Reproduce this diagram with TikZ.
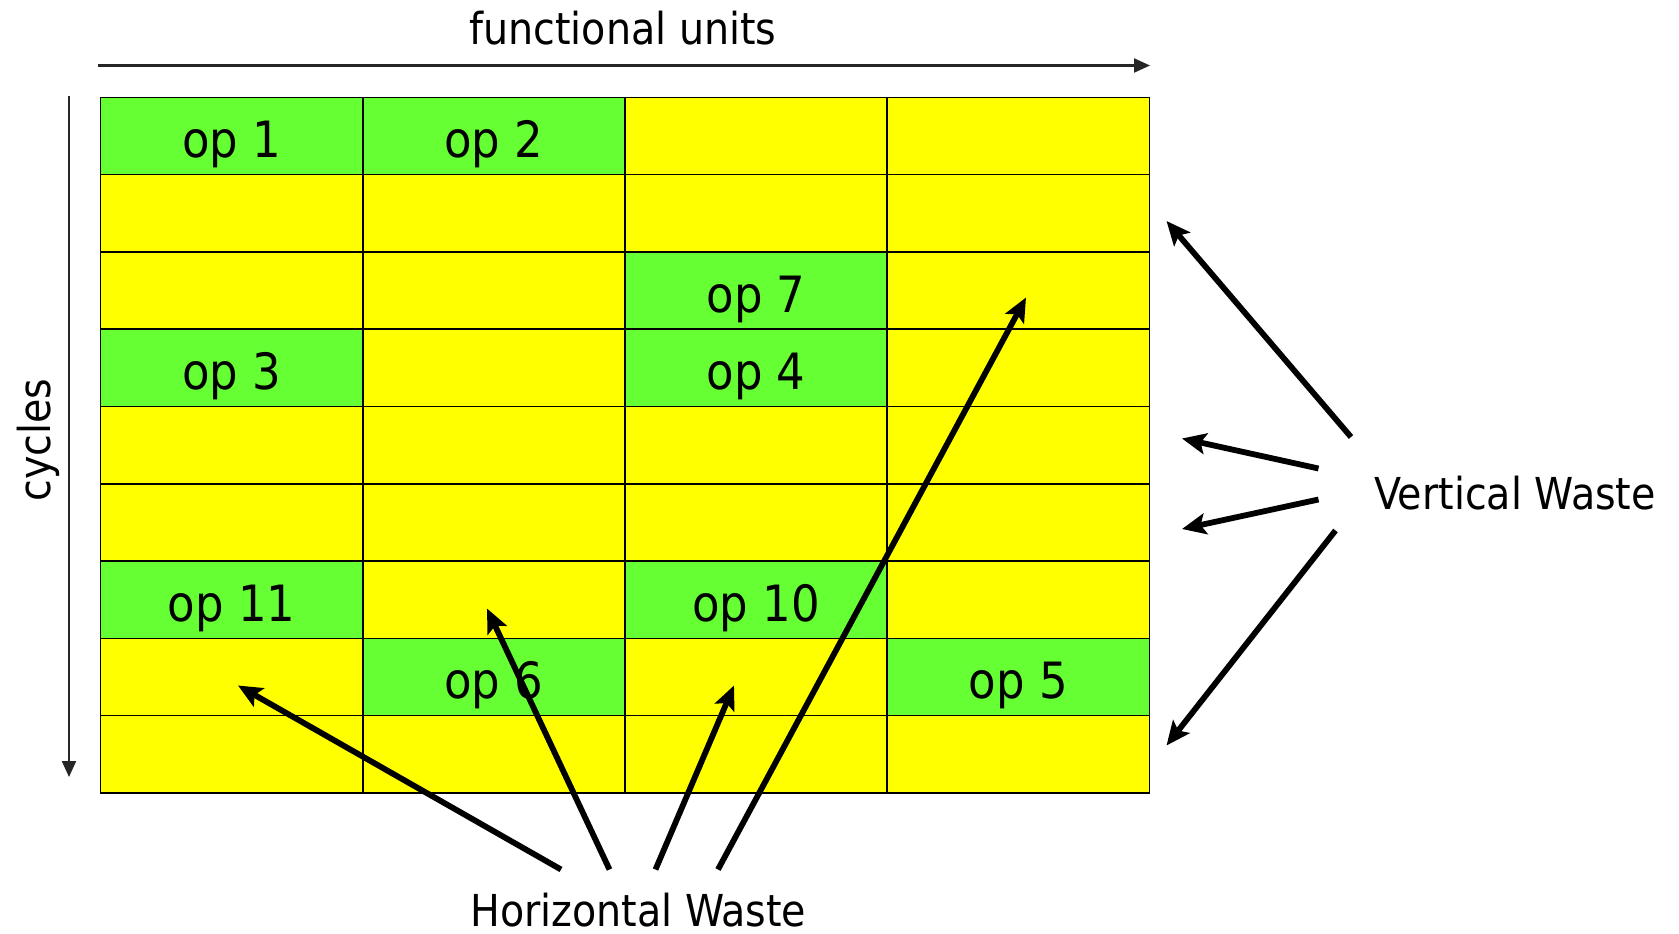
\documentclass[tikz,border=0pt]{standalone}
\usepackage{fontspec}
\setmainfont{DejaVu Sans Condensed}
\usetikzlibrary{arrows.meta}
\definecolor{opgreen}{HTML}{66FF33}
\definecolor{wasteyellow}{HTML}{FFFF00}
\begin{document}
\begin{tikzpicture}[x=1pt,y=-1pt,
  cell/.style={draw=black, line width=1.5pt, minimum width=262.15pt, minimum height=77.3pt,
    inner sep=0pt, text height=43pt, text depth=0pt, font=\fontsize{50}{60}\selectfont, anchor=center},
  busy/.style={cell, fill=opgreen},
  idle/.style={cell, fill=wasteyellow},
  lbl/.style={font=\fontsize{44}{52}\selectfont, inner sep=0pt, anchor=base},
  axis/.style={line width=2.2pt, draw=black!85, -{Triangle[length=16pt,width=14pt]}},
  waste/.style={line width=5.8pt, -{Stealth[length=24pt,width=21pt,inset=5pt]}}
]
\useasboundingbox (0,0) rectangle (1679,934);
% grid of idle (yellow) cells
\foreach \r in {0,...,8}{
  \foreach \c in {0,...,3}{
    \node[idle] (cell-\r-\c) at ({231.775+262.15*\c},{135.95+77.3*\r}) {};
  }
}
% busy (green) cells
\node[busy] (op1)  at (cell-0-0) {op 1};
\node[busy] (op2)  at (cell-0-1) {op 2};
\node[busy] (op7)  at (cell-2-2) {op 7};
\node[busy] (op3)  at (cell-3-0) {op 3};
\node[busy] (op4)  at (cell-3-2) {op 4};
\node[busy] (op11) at (cell-6-0) {op 11};
\node[busy] (op10) at (cell-6-2) {op 10};
\node[busy] (op6)  at (cell-7-1) {op 6};
\node[busy] (op5)  at (cell-7-3) {op 5};
% labels
\node[lbl] (fu) at (623,45) {functional units};
\node[lbl] (vw) at (1515,509) {Vertical Waste};
\node[lbl] (hw) at (638.3,926.7) {Horizontal Waste};
\node[lbl, rotate=90] (cy) at (50,440) {cycles};
% axes
\coordinate (fuS) at (98.3,65.5);
\coordinate (fuE) at (1150,65.5);
\coordinate (cyS) at (69,95.7);
\coordinate (cyE) at (69,777);
\draw[axis] (fuS) -- (fuE);
\draw[axis] (cyS) -- (cyE);
% horizontal waste arrows
\coordinate (h1s) at (561,869.5);   \coordinate (h1t) at (238,685.5);
\coordinate (h2s) at (609.5,869.5); \coordinate (h2t) at (487,608.5);
\coordinate (h3s) at (655.5,869.5); \coordinate (h3t) at (734,685.5);
\coordinate (h4s) at (718,869.5);   \coordinate (h4t) at (1026,297.5);
\draw[waste] (h1s) -- (h1t);
\draw[waste] (h2s) -- (h2t);
\draw[waste] (h3s) -- (h3t);
\draw[waste] (h4s) -- (h4t);
% vertical waste arrows
\coordinate (v1s) at (1351,437);     \coordinate (v1t) at (1166.5,221);
\coordinate (v2s) at (1318.5,468.5); \coordinate (v2t) at (1182,438.5);
\coordinate (v3s) at (1318.5,499.5); \coordinate (v3t) at (1182,529);
\coordinate (v4s) at (1335.5,530.5); \coordinate (v4t) at (1166.5,745.5);
\draw[waste] (v1s) -- (v1t);
\draw[waste] (v2s) -- (v2t);
\draw[waste] (v3s) -- (v3t);
\draw[waste] (v4s) -- (v4t);
\end{tikzpicture}
\end{document}
